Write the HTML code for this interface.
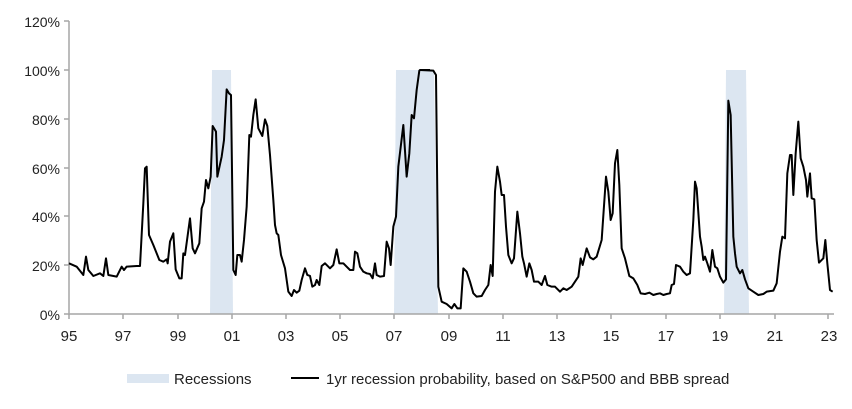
<!DOCTYPE html>
<html><head><style>
body{margin:0;background:#fff;}
svg{display:block;font-family:"Liberation Sans",sans-serif;}
</style></head><body>
<svg width="852" height="409" viewBox="0 0 852 409">
<g fill="#dce6f1">
<polygon points="212,70 231,70 233,314 210,314"/>
<polygon points="396,70 434,70 438,314 394,314"/>
<polygon points="726,70 746,70 749,314 724,314"/>
</g>
<g stroke="#a6a6a6" stroke-width="1.5" fill="none">
<line x1="69" y1="21" x2="69" y2="315"/>
<line x1="69" y1="314" x2="834" y2="314"/>
<path d="M69,21h-5M69,70h-5M69,119h-5M69,168h-5M69,216h-5M69,265h-5M69,314h-5"/>
<path d="M69,314v5M123,314v5M178,314v5M232,314v5M286,314v5M340,314v5M394,314v5M449,314v5M503,314v5M557,314v5M611,314v5M666,314v5M720,314v5M775,314v5M828,314v5"/>
</g>
<g font-size="14" fill="#222" text-anchor="end">
<text x="60" y="27">120%</text><text x="60" y="76">100%</text><text x="60" y="125">80%</text>
<text x="60" y="174">60%</text><text x="60" y="222">40%</text><text x="60" y="271">20%</text><text x="60" y="320">0%</text>
</g>
<g font-size="15" fill="#222" text-anchor="middle">
<text x="69" y="341">95</text><text x="123" y="341">97</text><text x="178" y="341">99</text><text x="232" y="341">01</text>
<text x="286" y="341">03</text><text x="340" y="341">05</text><text x="394" y="341">07</text><text x="449" y="341">09</text>
<text x="503" y="341">11</text><text x="557" y="341">13</text><text x="611" y="341">15</text><text x="666" y="341">17</text>
<text x="720" y="341">19</text><text x="775" y="341">21</text><text x="829" y="341">23</text>
</g>
<g fill="none" stroke="#000" stroke-width="2" stroke-linejoin="round">
<polyline vector-effect="non-scaling-stroke" transform="scale(0.33333)" points="207,790 230,800 250,825 258,770 265,810 280,828 300,820 310,828 318,775 325,825 350,830 365,800 372,810 380,800 410,798 420,798 430,610 435,505 440,500 447,705 460,735 478,780 490,785 500,778 503,790 510,725 520,700 527,808 538,835 545,835 550,760 555,765 570,655 578,745 585,760 598,730 605,625 612,605 618,540 625,565 632,530 638,378 648,395 652,530 665,470 672,420 680,268 687,280 693,285 700,810 707,825 712,765 720,765 725,785 732,720 740,620 748,405 753,410 760,345 767,298 775,385 787,408 795,358 802,378 810,465 820,600 825,675 830,700 835,705 843,765 855,805 865,875 875,888 882,870 890,878 898,872 905,840 915,805 922,825 930,828 937,860 945,855 950,840 958,855 965,798 975,790 990,805 1000,795 1010,748 1018,790 1030,790 1040,800 1050,810 1060,810 1065,755 1072,760 1080,800 1090,815 1100,820 1110,822 1118,835 1125,790 1130,825 1140,830 1152,828 1160,725 1167,745 1172,795 1180,680 1188,650 1195,500 1210,375 1220,530 1228,460 1235,345 1242,355 1250,270 1258,212 1260,210 1290,210"/>
<polyline vector-effect="non-scaling-stroke" transform="translate(420,0) scale(0.33333)" points="0,210 40,212 48,225 55,860 65,905 80,912 95,925 103,912 112,925 122,925 130,805 140,815 150,845 160,880 170,890 185,888 195,870 205,855 212,795 218,828 225,575 232,500 240,545 245,585 252,585 258,680 265,765 275,790 282,775 292,635 300,700 307,770 312,790 320,830 328,790 335,810 342,845 355,845 365,855 375,828 382,855 395,860 405,860 420,875 430,865 440,870 455,860 465,845 475,830 482,775 488,795 500,745 510,772 520,778 530,770 545,720 558,530 565,575 572,660 578,640 585,490 592,450 598,555 605,745 615,775 628,828 640,835 652,855 662,880 675,882 688,878 700,885 710,882 720,880 730,885 740,882 750,880 755,855 762,852 768,795 780,800 790,815 800,825 810,820 820,660 825,545 830,565 840,710 845,740 850,780 855,770 862,790 870,815 877,750 885,800 892,805 900,830 910,848 918,838 925,302 932,345 940,710 945,760 950,800 960,820 967,810 975,838 985,865 1000,875 1015,885 1030,882 1040,875 1060,872 1070,850 1080,755 1087,710 1095,715 1102,520 1110,465 1115,465 1120,585 1127,460 1135,365 1142,475 1150,500 1158,540 1162,590 1170,520 1175,595 1183,598 1190,720 1197,788 1210,775 1216,720 1222,790 1230,870 1238,875"/>
</g>
<rect x="127" y="374" width="42" height="9" fill="#dce6f1"/>
<text x="174" y="384" font-size="15" fill="#222">Recessions</text>
<line x1="291" y1="378" x2="319" y2="378" stroke="#000" stroke-width="2"/>
<text x="326" y="384" font-size="15" fill="#222">1yr recession probability, based on S&amp;P500 and BBB spread</text>
</svg>
</body></html>
